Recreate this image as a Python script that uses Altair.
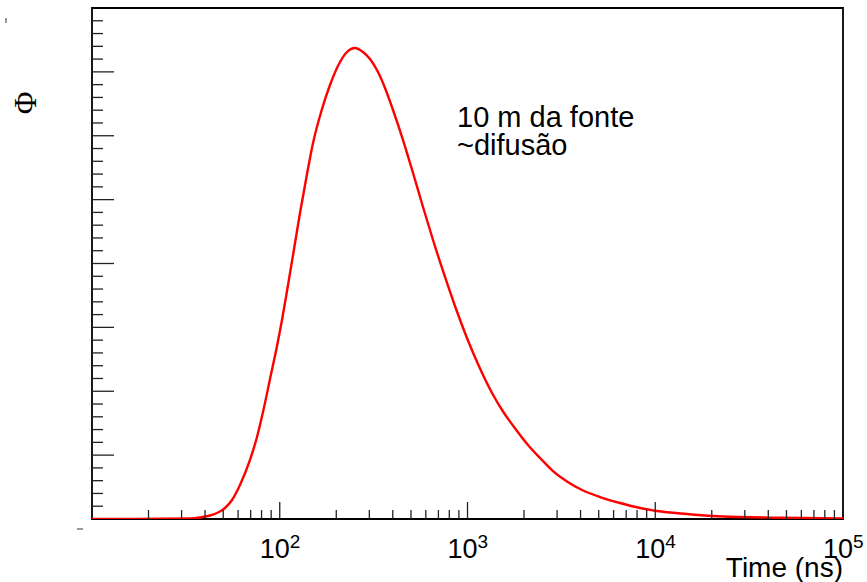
import altair as alt
import pandas as pd

# ---- data ----
t_ns = [10, 33.27, 37.6, 42.51, 46.9, 51.1, 55.68, 61.42, 69.43, 75.65, 81.42, 88.75,
        96.7, 102.8, 109.3, 117.7, 128.2, 139.7, 150.4, 167.9, 185.2, 209.4, 228.1,
        251.6, 277.5, 302.5, 333.7, 363.6, 401.1, 453.5, 512.6, 579.4, 655.1, 740.6,
        857.8, 993.8, 1137, 1351, 1546, 1835, 2100, 2434, 2853, 3388, 4074, 5078, 6490,
        8294, 10217, 14762, 20312, 28280, 46180, 100000]
phi = [0.0, 0.008, 0.023, 0.055, 0.102, 0.172, 0.297, 0.532, 0.924, 1.284, 1.675, 2.192,
       2.708, 3.115, 3.569, 4.133, 4.790, 5.401, 5.886, 6.419, 6.795, 7.155, 7.311,
       7.374, 7.311, 7.202, 6.998, 6.748, 6.403, 5.933, 5.417, 4.885, 4.368, 3.883,
       3.335, 2.834, 2.427, 1.973, 1.683, 1.378, 1.159, 0.955, 0.751, 0.587, 0.454, 0.344,
       0.250, 0.172, 0.125, 0.078, 0.047, 0.031, 0.020, 0.009]

x_major = [100, 1000, 10000]
x_minor = [20, 30, 40, 50, 60, 70, 80, 90,
           200, 300, 400, 500, 600, 700, 800, 900,
           2000, 3000, 4000, 5000, 6000, 7000, 8000, 9000,
           20000, 30000, 40000, 50000, 60000, 70000, 80000, 90000]
y_major = [1, 2, 3, 4, 5, 6, 7]
y_minor = [0.2, 0.4, 0.6, 0.8, 1.2, 1.4, 1.6, 1.8, 2.2, 2.4, 2.6, 2.8,
           3.2, 3.4, 3.6, 3.8, 4.2, 4.4, 4.6, 4.8, 5.2, 5.4, 5.6, 5.8,
           6.2, 6.4, 6.6, 6.8, 7.2, 7.4, 7.6, 7.8]
x_label_pos = [100, 1000, 10000, 100000]
x_label_base = ["10", "10", "10", "10"]
x_label_exp = ["2", "3", "4", "5"]
annotation = ["10 m da fonte", "~difusão"]

W, H = 751, 511
FONT = "Liberation Sans"
xs = alt.Scale(type="log", domain=[10, 100000])
ys = alt.Scale(domain=[0, 8])

curve_df = pd.DataFrame({"t": t_ns, "phi": phi})
curve = alt.Chart(curve_df).mark_line(
    color="#ff0000", strokeWidth=2.4, interpolate="monotone", clip=True
).encode(
    x=alt.X("t:Q", scale=xs, axis=None),
    y=alt.Y("phi:Q", scale=ys, axis=None),
)

def xticks(vals, length):
    return alt.Chart(pd.DataFrame({"v": vals})).mark_rule(color="#222", strokeWidth=1.3).encode(
        x=alt.X("v:Q", scale=xs, axis=None),
        y=alt.value(H),
        y2=alt.value(H - length),
    )

def yticks(vals, length):
    return alt.Chart(pd.DataFrame({"v": vals})).mark_rule(color="#222", strokeWidth=1.3).encode(
        y=alt.Y("v:Q", scale=ys, axis=None),
        x=alt.value(0),
        x2=alt.value(length),
    )

lab_df = pd.DataFrame({"v": x_label_pos, "base": x_label_base, "exp": x_label_exp})
lab_base = alt.Chart(lab_df).mark_text(
    font=FONT, fontSize=27, align="right", baseline="alphabetic", dx=10, color="black"
).encode(
    x=alt.X("v:Q", scale=xs, axis=None), y=alt.value(H + 39), text="base:N"
)
lab_exp = alt.Chart(lab_df).mark_text(
    font=FONT, fontSize=19, align="left", baseline="alphabetic", dx=10, color="black"
).encode(
    x=alt.X("v:Q", scale=xs, axis=None), y=alt.value(H + 29), text="exp:N"
)

x_title = alt.Chart(pd.DataFrame({"s": ["Time (ns)"]})).mark_text(
    font=FONT, fontSize=28, align="right", baseline="alphabetic", color="black"
).encode(x=alt.value(W), y=alt.value(H + 58), text="s:N")

y_title = alt.Chart(pd.DataFrame({"s": ["Φ"]})).mark_text(
    font="Liberation Serif", fontSize=31, align="center", baseline="middle",
    angle=270, color="black"
).encode(x=alt.value(27 - 92), y=alt.value(103 - 8), text="s:N")

note = alt.Chart(pd.DataFrame({"s": [0]})).mark_text(
    text=annotation, font=FONT, fontSize=29, lineHeight=28, align="left",
    baseline="alphabetic", color="black"
).encode(x=alt.value(457 - 92), y=alt.value(127 - 8))

# small clipped-label remnants visible in the reference
stub1 = alt.Chart(pd.DataFrame({"s": [0]})).mark_rule(color="#555", strokeWidth=1.2).encode(
    x=alt.value(77 - 92), x2=alt.value(83 - 92), y=alt.value(529 - 8))
stub2 = alt.Chart(pd.DataFrame({"s": [0]})).mark_rule(color="#555", strokeWidth=1.2).encode(
    x=alt.value(6 - 92), y=alt.value(18 - 8), y2=alt.value(23 - 8))

chart = alt.layer(
    curve,
    xticks(x_minor, 9), xticks(x_major, 17),
    yticks(y_minor, 11), yticks(y_major, 22),
    lab_base, lab_exp, x_title, y_title, note, stub1, stub2,
).properties(
    width=W, height=H,
    autosize=alt.AutoSizeParams(type="none"),
    padding={"left": 92, "top": 8, "right": 24, "bottom": 63},
).configure(
    background="white",
    view=alt.ViewConfig(stroke="#000000", strokeWidth=1.8),
)

chart.save("out.html", embed_options={"renderer": "svg", "actions": False})
